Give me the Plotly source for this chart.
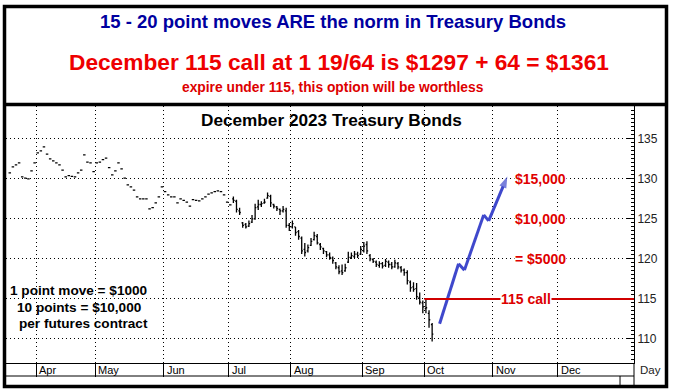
import plotly.graph_objects as go
import pandas as pd

# ---------------- data ----------------
holidays = ["2023-04-07", "2023-05-29", "2023-06-19", "2023-07-04",
            "2023-09-04", "2023-11-23", "2023-12-25", "2024-01-01"]
first_day = "2023-03-21"
month_names = ["Apr", "May", "Jun", "Jul", "Aug", "Sep", "Oct", "Nov", "Dec"]
year_break = "2024-01"

# thin early trading (Mar 21 - Jun 30): one price per day
early_px = [130.75, 131.5, 131.75, 132.0, 130.25, 130.1, 130.0, 131.0, 132.0,
            133.25, 133.5, 134.0, 133.1, 132.5, 132.25, 132.0, 131.75, 131.1,
            130.25, 130.4, 130.3, 130.25, 130.75, 131.1, 133.0, 132.1, 132.0,
            130.9, 132.0, 132.1, 132.4, 132.6, 131.4, 130.5, 131.0, 132.0,
            131.25, 130.1, 129.25, 129.0, 128.6, 127.75, 127.5, 127.5, 127.5,
            126.25, 126.4, 127.0, 127.75, 129.0, 128.4, 128.0, 127.75, 127.75,
            127.0, 127.5, 127.3, 127.1, 126.6, 127.4, 127.3, 127.25, 127.5,
            127.75, 128.1, 128.25, 128.4, 128.5, 128.4, 128.0, 127.1, 126.75]

# Jul - Oct 4 daily bars
late_open = [127.5, 127.2, 126.0, 124.5, 124.3, 124.1, 124.6, 125.0, 126.5, 126.8,
             127.0, 127.6, 127.8, 126.8, 126.5, 126.2, 126.0, 126.0, 124.2, 124.0,
             124.0, 123.4, 122.6, 121.2, 121.0, 121.7, 122.4, 122.8, 121.8, 121.3,
             120.9, 120.5, 120.1, 119.5, 118.9, 118.5, 118.5, 119.6, 120.2, 120.3,
             120.6, 120.6, 121.0, 121.8, 120.4, 119.9, 119.6, 119.2, 119.4, 119.2,
             119.6, 119.3, 119.0, 119.4, 118.9, 118.6, 118.3, 117.1, 116.5, 116.3,
             115.2, 114.5, 113.8, 113.2, 111.8]
late_high = [127.8, 127.4, 126.4, 124.6, 124.5, 124.8, 125.5, 126.9, 127.4, 127.2,
             127.5, 128.3, 128.0, 126.9, 126.6, 126.3, 126.6, 126.4, 124.5, 124.8,
             124.0, 123.6, 122.8, 122.0, 121.8, 122.6, 123.4, 123.1, 122.0, 121.4,
             121.0, 120.8, 120.3, 119.6, 119.2, 119.3, 119.4, 120.9, 120.8, 121.0,
             120.9, 121.6, 122.1, 122.2, 120.6, 120.1, 119.8, 119.7, 119.6, 120.0,
             119.8, 119.6, 119.9, 119.6, 119.1, 118.8, 118.6, 117.3, 117.1, 117.0,
             115.8, 114.8, 115.0, 113.6, 112.0]
late_low = [127.0, 125.8, 125.5, 123.9, 123.8, 124.0, 124.5, 124.9, 126.1, 126.5,
            126.9, 127.5, 126.5, 126.3, 126.0, 125.5, 125.8, 123.9, 123.5, 123.8,
            122.9, 122.4, 120.6, 120.3, 120.8, 121.6, 122.3, 121.8, 121.1, 120.6,
            120.2, 119.9, 119.4, 118.7, 118.1, 118.0, 118.4, 119.5, 120.0, 120.1,
            120.1, 120.5, 120.8, 120.6, 119.7, 119.5, 119.0, 118.9, 118.8, 119.0,
            118.9, 118.7, 118.9, 118.7, 118.3, 117.9, 116.8, 115.9, 115.9, 114.9,
            114.3, 113.2, 113.2, 111.4, 109.7]
late_close = [127.3, 126.2, 125.8, 124.2, 124.0, 124.4, 125.0, 126.4, 126.8, 126.9,
              127.1, 127.9, 127.0, 126.6, 126.3, 126.0, 126.2, 124.2, 124.0, 124.4,
              123.3, 122.8, 121.0, 120.8, 121.4, 122.2, 122.9, 122.0, 121.5, 121.0,
              120.5, 120.2, 119.8, 119.0, 118.4, 118.3, 118.9, 120.2, 120.4, 120.6,
              120.4, 121.2, 121.6, 121.0, 120.0, 119.7, 119.3, 119.4, 119.1, 119.7,
              119.3, 119.0, 119.5, 119.0, 118.6, 118.3, 117.3, 116.4, 116.2, 115.3,
              114.6, 114.0, 113.9, 112.4, 110.6]

price_ticks = [110, 115, 120, 125, 130, 135]
call_strike = 115
call_start = "2023-10"
profit_labels = ["$15,000", "$10,000", "= $5000"]
profit_levels = [130, 125, 120]

# projected move (trading-day offset after Oct 2, price)
arrow_day = [4.4, 10.5, 12.4, 18.6, 20.2, 26.2]
arrow_price = [111.9, 119.4, 118.6, 125.5, 124.75, 130.3]

# ---------------- calendar ----------------
days = pd.bdate_range(first_day, "2024-01-31", freq="C", holidays=holidays)
n_bars = len(early_px) + len(late_close)
bar_x = list(range(n_bars))
months = pd.Series(range(len(days)), index=days)
month_pos = [months[m].iloc[0] - 0.5 for m in
             ["2023-04", "2023-05", "2023-06", "2023-07", "2023-08",
              "2023-09", "2023-10", "2023-11", "2023-12"]]
year_pos = months[year_break].iloc[0] - 0.5
call_x = months[call_start].iloc[0] - 0.5
oct_first = months[call_start].iloc[0]
arrow_x = [oct_first + d for d in arrow_day]

opens = early_px + late_open
highs = early_px + late_high
lows = early_px + late_low
closes = early_px + late_close

# ---------------- figure ----------------
W, H = 673, 392
L, R, T, B = 6, 634, 106, 363


def pxx(x):
    return (x - L) / (R - L)


def pyy(y):
    return (B - y) / (B - T)


FONT = "Liberation Sans, Arial, sans-serif"
DOT = "1px,3px"

fig = go.Figure()
fig.add_trace(go.Ohlc(
    x=bar_x, open=opens, high=highs, low=lows, close=closes,
    increasing=dict(line=dict(color="black", width=1.3)),
    decreasing=dict(line=dict(color="black", width=1.3)),
    tickwidth=0.4, hoverinfo="skip", showlegend=False))

fig.add_trace(go.Scatter(
    x=arrow_x, y=arrow_price, mode="lines+markers",
    line=dict(color="#3f48cc", width=3),
    marker=dict(symbol="arrow", size=[0, 0, 0, 0, 0, 12], angleref="previous",
                color="#3f48cc", line=dict(width=0)),
    hoverinfo="skip", showlegend=False))

shapes = []
shapes.append(dict(type="rect", xref="paper", yref="paper",
                   x0=pxx(4.5), x1=pxx(666.5), y0=pyy(386.5), y1=pyy(6.5),
                   line=dict(color="black", width=3.5), layer="above"))
shapes.append(dict(type="line", xref="paper", yref="paper",
                   x0=pxx(4.5), x1=pxx(666.5), y0=pyy(104.5), y1=pyy(104.5),
                   line=dict(color="black", width=3.5), layer="above"))
shapes.append(dict(type="line", xref="paper", yref="paper",
                   x0=pxx(6), x1=pxx(634), y0=pyy(376), y1=pyy(376),
                   line=dict(color="black", width=1)))
shapes.append(dict(type="line", xref="paper", yref="paper",
                   x0=pxx(634), x1=pxx(634), y0=pyy(363), y1=pyy(386),
                   line=dict(color="black", width=1)))
shapes.append(dict(type="line", xref="x", yref="paper",
                   x0=year_pos, x1=year_pos, y0=pyy(376), y1=pyy(386),
                   line=dict(color="black", width=1)))
shapes.append(dict(type="line", xref="x", yref="y",
                   x0=call_x, x1=201.0, y0=call_strike, y1=call_strike,
                   line=dict(color="#d00000", width=2)))

ann = []
ann.append(dict(text="<b>15 - 20 point moves ARE the norm in Treasury Bonds</b>",
                x=pxx(333), y=pyy(21), font=dict(size=18.5, color="#0000a0", family=FONT)))
ann.append(dict(text="<b>December 115 call at 1 19/64 is $1297 + 64 = $1361</b>",
                x=pxx(339), y=pyy(62), font=dict(size=22.7, color="#ee0000", family=FONT)))
ann.append(dict(text="<b>expire under 115, this option will be worthless</b>",
                x=pxx(333), y=pyy(87), font=dict(size=13.8, color="#dd0000", family=FONT)))
ann.append(dict(text="<b>December 2023 Treasury Bonds</b>",
                x=pxx(331), y=pyy(120), font=dict(size=17.2, color="black", family=FONT)))
for txt, xl, yc in [("1 point move = $1000", 8, 290),
                    ("10 points = $10,000", 15, 307),
                    ("per futures contract", 17, 323)]:
    ann.append(dict(text="<b>" + txt + "</b>", x=pxx(xl), y=pyy(yc), xanchor="left",
                    font=dict(size=13.6, color="black", family=FONT)))
for a in ann:
    a.update(xref="paper", yref="paper", showarrow=False)
    a.setdefault("xanchor", "center")
    a["yanchor"] = "middle"

for txt, lvl in zip(profit_labels, profit_levels):
    ann.append(dict(text="<b>" + txt + "</b>", x=oct_first + 28.3, y=lvl, xref="x", yref="y",
                    xanchor="left", yanchor="middle", showarrow=False, bgcolor="white",
                    borderpad=0, font=dict(size=14, color="#e00000", family=FONT)))
ann.append(dict(text="<b>115 call</b>", x=oct_first + 32.3, y=call_strike, xref="x", yref="y",
                xanchor="center", yanchor="middle", showarrow=False, bgcolor="white",
                borderpad=0, font=dict(size=14, color="#dd0000", family=FONT)))
for name, pos in zip(month_names, month_pos):
    ann.append(dict(text=name, x=pos, y=pyy(369.5), xref="x", yref="paper",
                    xanchor="left", yanchor="middle", xshift=1, showarrow=False,
                    font=dict(size=11, color="black", family=FONT)))
ann.append(dict(text="Day", x=pxx(650), y=pyy(370), xref="paper", yref="paper",
                xanchor="center", yanchor="middle", showarrow=False,
                font=dict(size=11.5, color="#222", family=FONT)))

fig.update_layout(
    width=W, height=H,
    margin=dict(l=L, r=W - R, t=T, b=H - B, pad=0),
    paper_bgcolor="white", plot_bgcolor="white",
    showlegend=False,
    shapes=shapes, annotations=ann,
    xaxis=dict(range=[-1.22, 201.0], tickvals=month_pos, showticklabels=False,
               ticks="outside", ticklen=13, tickcolor="black", tickwidth=1,
               showgrid=True, gridcolor="black", griddash=DOT, gridwidth=1,
               showline=True, linecolor="black", linewidth=1, zeroline=False,
               rangeslider=dict(visible=False), fixedrange=True),
    yaxis=dict(range=[107, 139.1], side="right", tickvals=price_ticks,
               ticks="inside", ticklen=7, tickcolor="black", tickwidth=1,
               tickfont=dict(size=12, color="#222", family=FONT),
               minor=dict(dtick=0.5, ticks="inside", ticklen=3, tickcolor="black",
                          showgrid=False),
               showgrid=True, gridcolor="black", griddash=DOT, gridwidth=1,
               showline=True, linecolor="black", linewidth=1, zeroline=False,
               fixedrange=True),
)

fig.write_html("out.html", config={"displayModeBar": False},
               post_script="document.body.style.margin='0';document.body.style.overflow='hidden';")
